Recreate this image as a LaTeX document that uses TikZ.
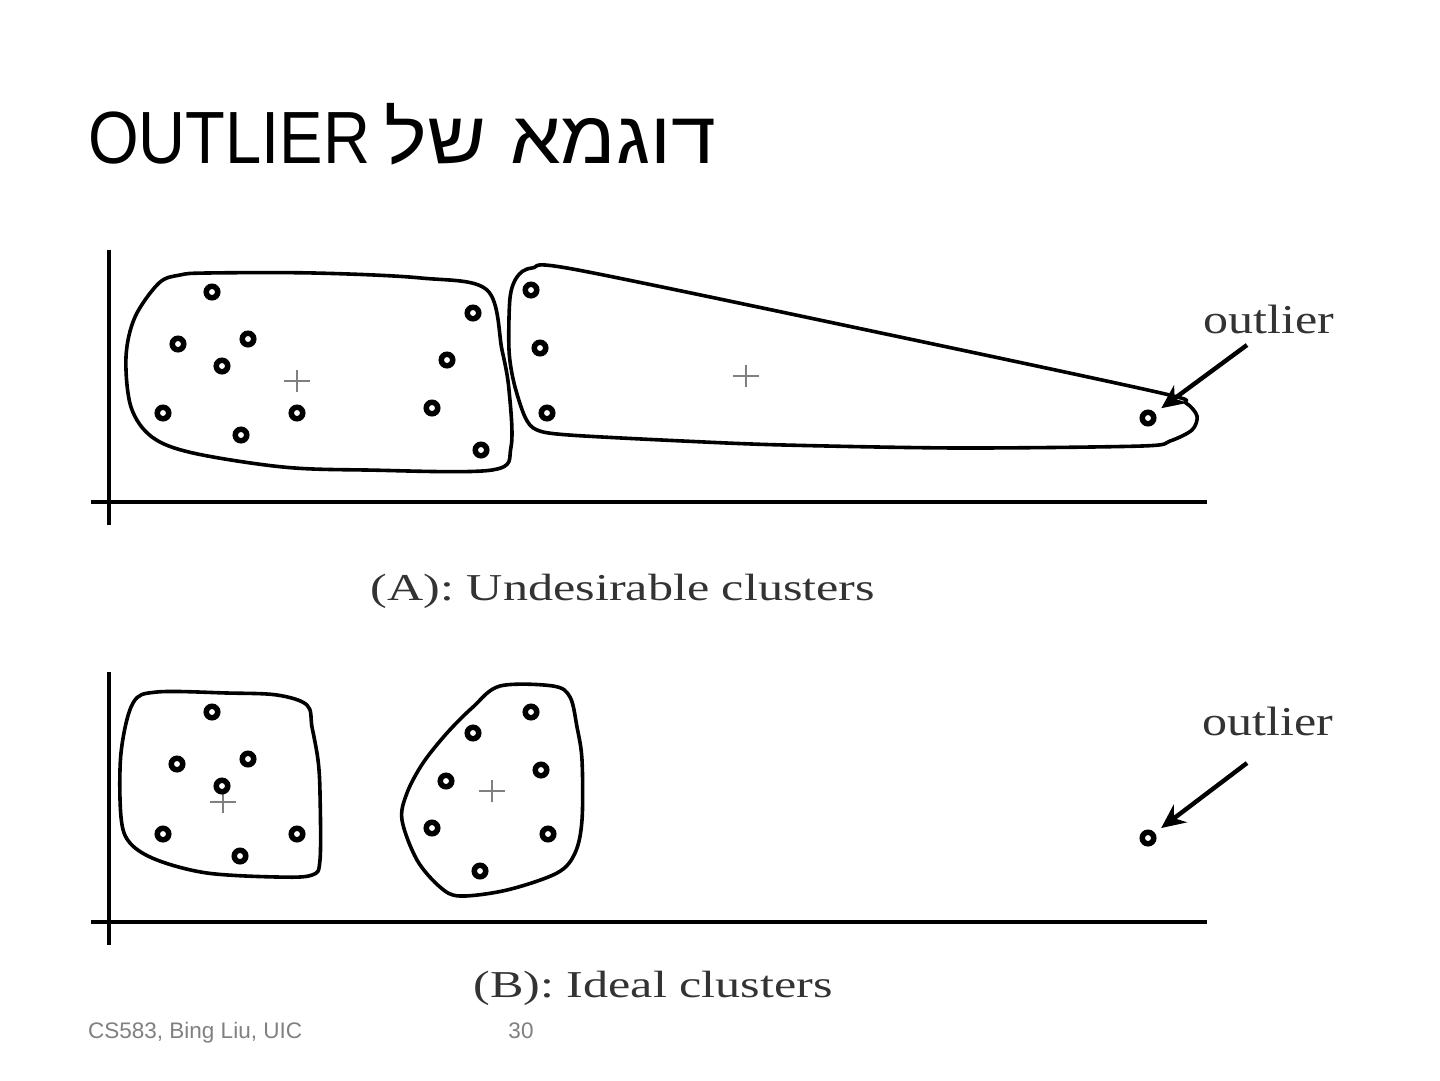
\documentclass[tikz,border=0pt]{standalone}
\usepackage{fontspec}
\setmainfont{Liberation Serif}
\setsansfont{Liberation Sans}
\newfontfamily\hebfont[Script=Hebrew, FakeStretch=1.09]{Liberation Sans}
\newfontfamily\narrowfont[FakeStretch=0.88]{Liberation Sans}
\TeXXeTstate=1
\usepackage{tikz}
\usetikzlibrary{arrows.meta, positioning}

\tikzset{
  axis/.style={line width=4pt},
  hull/.style={line width=3.6pt, line join=round},
  pt/.style={circle, draw, fill=white, line width=5.5pt, minimum size=11.5pt, inner sep=0pt},
  centre/.style={draw=black!50, line width=2pt},
  arr/.style={line width=4.4pt, -{Stealth[length=24pt, width=22pt]}, shorten >=8pt},
  lbl/.style={font=\fontsize{41}{44}\selectfont, text=black!80, xscale=1.22, inner sep=0pt},
  captext/.style={font=\fontsize{38}{42}\selectfont, text=black!80, xscale=1.32, inner sep=0pt},
  foot/.style={font=\sffamily\fontsize{22.5}{26}\selectfont, text=black!50, inner sep=0pt}
}

\begin{document}
\begin{tikzpicture}[x=1pt, y=-1pt]
  \useasboundingbox (0,0) rectangle (1440,1080);

  % title
  \node[anchor=base west, inner sep=0pt] (title) at (88,163)
    {\fontsize{74}{80}\selectfont\hebfont\beginR דוגמא\hspace{24pt}של\hspace{14pt}\beginL{\narrowfont OUTLIER}\endL\endR};

  % (A) undesirable clusters
  \draw[axis] (109,250) -- (109,525);
  \draw[axis] (91,502) -- (1207,502);

  \draw[hull] plot[smooth cycle, tension=0.55] coordinates {
    (180,275) (207,273) (314,273) (421,278) (487,290) (502,350) (509,390)
    (511,447) (492,470) (366,470) (283,467) (193,453) (152,437) (131,407)
    (126,357) (135,317) (159,283)};
  \draw[hull] plot[smooth cycle, tension=0.5] coordinates {
    (532,268) (578,270) (900,337) (1161,393) (1186,403) (1197,416)
    (1192,430) (1170,441) (1142,446) (959,448) (784,445) (683,441) (569,435)
    (537,430) (525,417) (514,383) (509,350) (510,298) (517,277)};

  \foreach \c in {(297,381),(746,376)}
    \draw[centre] \c +(-13,0) -- +(13,0) \c +(0,-11) -- +(0,11);

  \foreach \x/\y [count=\i] in {212/292, 178/344, 248/339, 222/366, 163/413,
      241/435, 297/413, 473/313, 447/360, 432/408, 481/450,
      531/290, 540/348, 547/413}
    \node[pt] (a\i) at (\x,\y) {};
  \node[pt] (outA) at (1148,418) {};

  \node[lbl, anchor=base] (lblA) at (1269,333) {outlier};
  \coordinate (tailA) at (1247,345);
  \draw[arr] (tailA) -- (outA);

  \node[captext, anchor=base] (capA) at (623,600) {(A): Undesirable clusters};

  % (B) ideal clusters
  \draw[axis] (109,672) -- (109,945);
  \draw[axis] (91,922) -- (1207,922);

  \draw[hull] plot[smooth cycle, tension=0.55] coordinates {
    (157,692) (227,693) (277,695) (307,705) (312,727) (318,760) (320,793)
    (320,860) (312,875) (277,877) (207,873) (157,860) (130,843) (121,817)
    (121,753) (133,703)};
  \draw[hull] plot[smooth cycle, tension=0.55] coordinates {
    (500,686) (553,686) (570,697) (577,727) (582,760) (582,820) (575,853)
    (557,873) (507,890) (460,896) (440,887) (417,860) (402,820) (407,793)
    (423,763) (447,733) (473,707)};

  \foreach \c in {(223,802),(492,791)}
    \draw[centre] \c +(-13,0) -- +(13,0) \c +(0,-11) -- +(0,11);

  \foreach \x/\y [count=\i] in {212/712, 177/764, 248/759, 222/786, 163/834,
      240/856, 297/834, 531/712, 473/733, 541/770, 446/781, 432/828,
      548/834, 480/871}
    \node[pt] (b\i) at (\x,\y) {};
  \node[pt] (outB) at (1148,838) {};

  \node[lbl, anchor=base] (lblB) at (1268,735) {outlier};
  \coordinate (tailB) at (1247,763);
  \draw[arr] (tailB) -- (outB);

  \node[captext, anchor=base] (capB) at (653,997) {(B): Ideal clusters};

  % footer
  \node[foot, anchor=base west] (src) at (88,1038) {CS583, Bing Liu, UIC};
  \node[foot, anchor=base] (page) at (521,1038) {30};
\end{tikzpicture}
\end{document}
